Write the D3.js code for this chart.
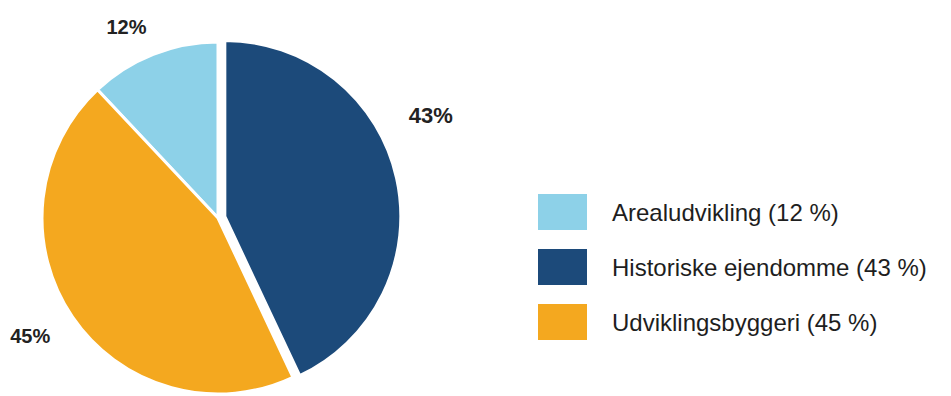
<!DOCTYPE html>
<html><head><meta charset="utf-8">
<script src="https://cdn.jsdelivr.net/npm/d3@7"></script>
<style>
html,body{margin:0;padding:0;background:#fff;}
svg{display:block;font-family:"Liberation Sans",Arial,sans-serif;}
</style></head>
<body>
<svg id="chart" width="951" height="396"></svg>
<script>
const categories = ["Arealudvikling", "Historiske ejendomme", "Udviklingsbyggeri"];
const values = [12, 43, 45];
const legendLabels = ["Arealudvikling (12 %)", "Historiske ejendomme (43 %)", "Udviklingsbyggeri (45 %)"];
const sliceLabels = ["12%", "43%", "45%"];
const colors = ["#8dd1e8", "#1c4a7a", "#f4a81f"];

const svg = d3.select("#chart");
const cx = 218, cy = 218, r = 176;
const total = d3.sum(values);
const pie = d3.pie().sort(null).value(d => d)
  .startAngle(-2 * Math.PI * values[0] / total)
  .endAngle(2 * Math.PI - 2 * Math.PI * values[0] / total);
const arcs = pie(values);
const arc = d3.arc().innerRadius(0).outerRadius(r);
const explode = [0, 7, 0];

const g = svg.append("g").attr("transform", `translate(${cx},${cy})`);
g.selectAll("path").data(arcs).join("path")
  .attr("d", arc)
  .attr("fill", (d, i) => colors[i])
  .attr("stroke", "#fff")
  .attr("stroke-width", 3)
  .attr("stroke-linejoin", "round")
  .attr("transform", (d, i) => {
    const a = (d.startAngle + d.endAngle) / 2;
    return `translate(${explode[i] * Math.sin(a)},${-explode[i] * Math.cos(a)})`;
  });

// slice labels placed around the pie
const labelRadius = [212, 236, 222];
const labelAngleShift = [-4, -13, 2]; // degrees
g.selectAll("text.lab").data(arcs).join("text")
  .attr("class", "lab")
  .attr("x", (d, i) => {
    const a = (d.startAngle + d.endAngle) / 2 + labelAngleShift[i] * Math.PI / 180;
    return labelRadius[i] * Math.sin(a);
  })
  .attr("y", (d, i) => {
    const a = (d.startAngle + d.endAngle) / 2 + labelAngleShift[i] * Math.PI / 180;
    return -labelRadius[i] * Math.cos(a) + 7;
  })
  .attr("text-anchor", "middle")
  .attr("font-size", (d, i) => i === 1 ? 22 : 20)
  .attr("font-weight", "bold")
  .attr("fill", "#222")
  .text((d, i) => sliceLabels[i]);

// legend
const legY = d3.scalePoint().domain(categories).range([212, 322]);
const leg = svg.append("g");
const rows = leg.selectAll("g").data(categories).join("g")
  .attr("transform", d => `translate(538,${legY(d)})`);
rows.append("rect")
  .attr("x", 0).attr("y", -18).attr("width", 49).attr("height", 36)
  .attr("fill", (d, i) => colors[i]);
rows.append("text")
  .attr("x", 74).attr("y", 9)
  .attr("font-size", 24)
  .attr("fill", "#1e1e1e")
  .text((d, i) => legendLabels[i]);
</script>
</body></html>
